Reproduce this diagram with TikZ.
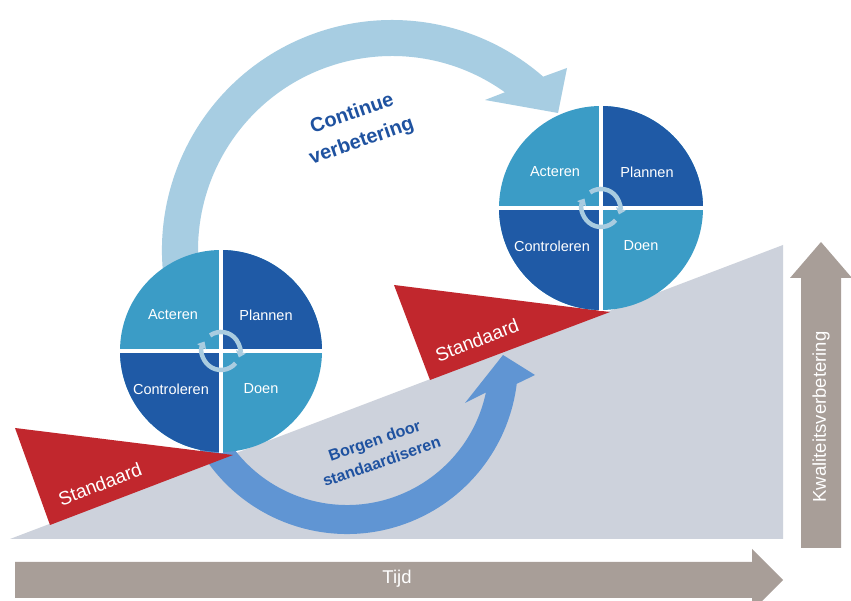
\documentclass[tikz,border=0pt]{standalone}
\usepackage{fontspec}
\setmainfont{Liberation Sans}
\usepackage{tikz}
\usetikzlibrary{arrows.meta,positioning,calc}
\usepackage{xcolor}
\definecolor{slopegray}{HTML}{CDD2DC}
\definecolor{axisbrown}{HTML}{A89E98}
\definecolor{stdred}{HTML}{C1272D}
\definecolor{contblue}{HTML}{A7CDE2}
\definecolor{borgblue}{HTML}{6095D3}
\definecolor{darkq}{HTML}{1F5AA6}
\definecolor{lightq}{HTML}{3B9CC6}
\definecolor{ringblue}{HTML}{A9CCE0}
\definecolor{labelblue}{HTML}{1F52A0}

\begin{document}
\begin{tikzpicture}[x=1pt,y=1pt,
    quadlabel/.style={text=white,font=\fontsize{14.5}{17}\selectfont},
    stdlabel/.style={text=white,font=\fontsize{19}{22}\selectfont},
    axislabel/.style={text=white,font=\fontsize{18.5}{22}\selectfont},
    ringarrow/.style={ringblue,line width=4.5,-{Triangle[length=6pt,width=10pt]}}]
    \useasboundingbox (0,0) rectangle (851,601);
    \fill[white] (0,0) rectangle (851,601);

    % Slope
    \fill[slopegray] (10,62) -- (783,356) -- (783,62) -- cycle;

    % Continue verbetering arrow
    \begin{scope}[shift={(392,351)}]
        \fill[contblue] (200:230) arc[start angle=200,end angle=48.9,radius=230]
            -- (175,182) -- (166,137) -- (93,150)
            -- (54.4:194) arc[start angle=54.4,end angle=200,radius=194] -- cycle;
    \end{scope}

    % Borgen arrow
    \begin{scope}[shift={(347,238)}]
        \fill[borgblue] (205:171) arc[start angle=205,end angle=353,radius=171]
            -- (188,-12) -- (156,8) -- (118,-40)
            -- (348:142) arc[start angle=348,end angle=205,radius=142] -- cycle;
    \end{scope}

    % Standaard wedges
    \fill[stdred] (15,173) -- (233,146) -- (50,76) -- cycle;
    \node[stdlabel, rotate=21] (std1) at (100,117) {Standaard};
    \fill[stdred] (394,316) -- (610,289) -- (430,221) -- cycle;
    \node[stdlabel, rotate=21] (std2) at (477,261) {Standaard};

    % Wheel 1
    \begin{scope}[shift={(221,250)}]
        \fill[lightq] (0,0) circle (101);
        \fill[darkq] (0,0) -- (101,0) arc[start angle=0,end angle=90,radius=101] -- cycle;
        \fill[darkq] (0,0) -- (-101,0) arc[start angle=180,end angle=270,radius=101] -- cycle;
        \draw[white, line width=4] (-102,0) -- (102,0);
        \draw[white, line width=4] (0,-102) -- (0,102);
        \draw[ringarrow] (-40:19) arc[start angle=-40,end angle=-210,radius=19];
        \draw[ringarrow] (125:19) arc[start angle=125,end angle=-20,radius=19];
        \node[quadlabel] (act1) at (-48,36) {Acteren};
        \node[quadlabel] (plan1) at (45,36) {Plannen};
        \node[quadlabel] (ctrl1) at (-50,-38) {Controleren};
        \node[quadlabel] (doen1) at (40,-38) {Doen};
    \end{scope}

    % Wheel 2
    \begin{scope}[shift={(601,393)}]
        \fill[lightq] (0,0) circle (102);
        \fill[darkq] (0,0) -- (102,0) arc[start angle=0,end angle=90,radius=102] -- cycle;
        \fill[darkq] (0,0) -- (-102,0) arc[start angle=180,end angle=270,radius=102] -- cycle;
        \draw[white, line width=4] (-103,0) -- (103,0);
        \draw[white, line width=4] (0,-103) -- (0,103);
        \draw[ringarrow] (-40:19) arc[start angle=-40,end angle=-210,radius=19];
        \draw[ringarrow] (125:19) arc[start angle=125,end angle=-20,radius=19];
        \node[quadlabel] (act2) at (-46,36) {Acteren};
        \node[quadlabel] (plan2) at (46,36) {Plannen};
        \node[quadlabel] (ctrl2) at (-49,-38) {Controleren};
        \node[quadlabel] (doen2) at (40,-38) {Doen};
    \end{scope}

    % Arrow labels
    \node[labelblue, font=\bfseries\fontsize{20}{29}\selectfont, rotate=19, align=center]
        (contlbl) at (357,473) {Continue\\verbetering};
    \node[labelblue, font=\bfseries\fontsize{16}{22}\selectfont, rotate=19, align=center]
        (borglbl) at (378,150) {Borgen door\\standaardiseren};

    % Axes
    \fill[axisbrown] (15,39) -- (752,39) -- (752,52) -- (783,21) -- (752,-10)
        -- (752,3) -- (15,3) -- cycle;
    \node[axislabel] (time) at (397,22) {Tijd};
    \fill[axisbrown] (801,53) -- (801,323) -- (790,323) -- (821,359) -- (852,323)
        -- (841,323) -- (841,53) -- cycle;
    \node[axislabel, rotate=90] (quality) at (821,184) {Kwaliteitsverbetering};
\end{tikzpicture}
\end{document}
